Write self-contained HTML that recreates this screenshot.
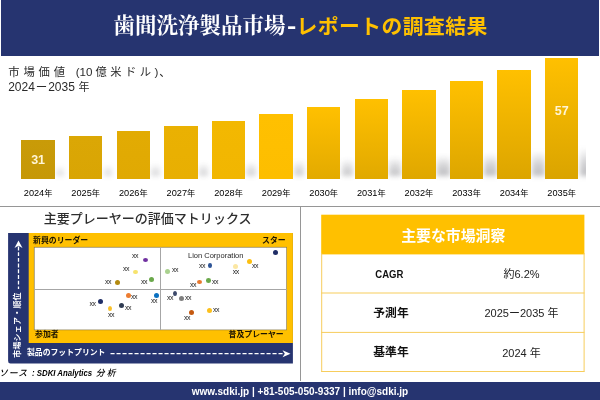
<!DOCTYPE html>
<html lang="ja"><head><meta charset="utf-8"><title>歯間洗浄製品市場</title>
<style>
html,body{margin:0;padding:0;background:#fff;}
body{width:600px;height:400px;position:relative;overflow:hidden;font-family:"Liberation Sans","Noto Sans CJK JP",sans-serif;color:#222;}
.abs{position:absolute;white-space:nowrap;}
#hdr{left:1px;top:0;width:597.5px;height:55.5px;background:#263470;}
#t1{left:113.5px;top:11.4px;font-family:"Liberation Serif","Noto Serif CJK SC","Noto Serif CJK JP",serif;font-weight:700;font-size:21.5px;line-height:30px;color:#fff;}
#t2{left:296.5px;top:12px;font-weight:700;letter-spacing:.45px;font-size:20.8px;line-height:30px;color:#ffc000;}
.sub{font-size:11px;line-height:14px;color:#2a2a2a;}
.bar{position:absolute;}
.sh{position:absolute;background:linear-gradient(to top,rgba(105,105,112,.43),rgba(105,105,112,.31) 45%,rgba(105,105,112,0));filter:blur(2.4px);}
#shw{left:0;top:0;width:586px;height:200px;overflow:hidden;}
.yr{position:absolute;font-size:9.2px;line-height:10px;color:#000;text-align:center;width:48px;white-space:nowrap;}
.nen{font-size:8.2px;}
.val{position:absolute;color:#fff5d6;font-weight:700;font-size:12.5px;line-height:14px;text-align:center;}
.hl{position:absolute;background:#969696;}
#mt{left:43.7px;top:209px;font-size:13.03px;line-height:20px;color:#2e2e2e;font-weight:500;}
#navy{left:8px;top:233px;width:285px;height:130.5px;background:#263470;border-radius:0 0 0 2.5px;}
#gold{left:28.7px;top:233px;width:264.3px;height:110px;background:#ffc000;}
#inner{left:33.8px;top:246.8px;width:253.2px;height:83.5px;background:#fff;border:1px solid #8a7a45;box-sizing:border-box;}
.ql{position:absolute;background:#a6a6a6;}
.qt{font-weight:700;font-size:7.9px;line-height:10px;color:#1c1400;}
.dot{position:absolute;border-radius:50%;}
.xx{position:absolute;font-size:7px;line-height:7px;color:#222;width:12px;text-align:center;letter-spacing:-0.6px;}
#src{left:-1px;top:367px;font-size:8.8px;line-height:12px;font-style:italic;color:#000;font-weight:500;}
#src b{display:inline-block;font-size:9px;transform:scaleX(.87);transform-origin:0 50%;margin-right:-8.5px;}
#ftr{left:0;top:381.5px;width:600px;height:18.5px;background:#263470;}
#ft{left:0;width:600px;text-align:center;top:385px;font-size:10px;line-height:14px;color:#fff;font-weight:700;}
.tb{position:absolute;background:#f7c948;}
.th{left:321px;top:214px;width:263.5px;height:40px;background:#ffc000;}
.tht{left:321.5px;width:263.5px;top:226.2px;text-align:center;color:#fff;font-size:14.9px;line-height:20px;font-weight:700;}
.c1{position:absolute;left:322px;width:138px;text-align:center;font-weight:700;font-size:11.8px;line-height:14px;color:#111;}
.c2{position:absolute;left:459px;width:125px;text-align:center;font-size:11px;line-height:14px;color:#222;}
</style></head><body>
<div class="abs" id="hdr"></div>
<div class="abs" id="t1">歯間洗浄製品市場<span style="font-family:'Liberation Sans',sans-serif;display:inline-block;position:relative;top:-0.3px;transform:scaleX(1.3);transform-origin:0 50%;margin-left:1.8px">-</span></div>
<div class="abs" id="t2">レポートの調査結果</div>
<div class="abs sub" style="left:8.2px;top:64.5px;"><span style="letter-spacing:3.9px;font-size:11.3px">市場価値</span> <span style="margin-left:3.7px;font-size:11.6px">(10</span><span style="letter-spacing:3.4px;font-size:11.3px;margin-left:3.1px">億米ドル</span><span style="font-size:11.6px">)</span><span style="font-size:11.3px;margin-left:1px">、</span></div>
<div class="abs sub" style="left:8.2px;top:79.5px;font-size:12px">2024<span style="margin:0 .9px 0 .9px;font-size:11.5px">ー</span>2035 <span style="font-size:11px;margin-left:.3px">年</span></div>

<div class="abs" id="shw">
<div class="sh" style="left:55.9px;top:166.0px;width:8.0px;height:10.0px;opacity:0.50"></div>
<div class="sh" style="left:103.5px;top:165.2px;width:8.4px;height:10.8px;opacity:0.54"></div>
<div class="sh" style="left:151.1px;top:164.1px;width:8.9px;height:11.9px;opacity:0.59"></div>
<div class="sh" style="left:198.7px;top:162.9px;width:9.4px;height:13.1px;opacity:0.64"></div>
<div class="sh" style="left:246.3px;top:161.8px;width:9.9px;height:14.1px;opacity:0.69"></div>
<div class="sh" style="left:293.9px;top:160.3px;width:10.5px;height:15.7px;opacity:0.75"></div>
<div class="sh" style="left:341.5px;top:158.8px;width:11.2px;height:17.2px;opacity:0.82"></div>
<div class="sh" style="left:389.1px;top:157.0px;width:12.0px;height:19.0px;opacity:0.90"></div>
<div class="sh" style="left:436.7px;top:155.0px;width:12.9px;height:21.0px;opacity:0.99"></div>
<div class="sh" style="left:484.3px;top:153.1px;width:13.0px;height:22.9px;opacity:1.00"></div>
<div class="sh" style="left:531.9px;top:150.6px;width:13.0px;height:25.4px;opacity:1.00"></div>
<div class="sh" style="left:579.5px;top:148.0px;width:13.0px;height:28.0px;opacity:1.00"></div>
</div>
<div class="bar" style="left:21.3px;top:140px;width:33.6px;height:38.5px;background:linear-gradient(180deg,#c99b08,#c69807);"></div>
<div class="yr" style="left:14.1px;top:188.3px;">2024<span class="nen">年</span></div>
<div class="bar" style="left:68.9px;top:136px;width:33.6px;height:42.5px;background:linear-gradient(180deg,#dba705,#d9a504);"></div>
<div class="yr" style="left:61.7px;top:188.3px;">2025<span class="nen">年</span></div>
<div class="bar" style="left:116.5px;top:131px;width:33.6px;height:47.5px;background:linear-gradient(180deg,#e2ab03,#e0a903);"></div>
<div class="yr" style="left:109.3px;top:188.3px;">2026<span class="nen">年</span></div>
<div class="bar" style="left:164.1px;top:126px;width:33.6px;height:52.5px;background:linear-gradient(180deg,#eab102,#e8af02);"></div>
<div class="yr" style="left:156.9px;top:188.3px;">2027<span class="nen">年</span></div>
<div class="bar" style="left:211.7px;top:121px;width:33.6px;height:57.5px;background:linear-gradient(180deg,#f3b801,#f1b601);"></div>
<div class="yr" style="left:204.5px;top:188.3px;">2028<span class="nen">年</span></div>
<div class="bar" style="left:259.3px;top:114px;width:33.6px;height:64.5px;background:linear-gradient(180deg,#ffc000,#fdbe00);"></div>
<div class="yr" style="left:252.1px;top:188.3px;">2029<span class="nen">年</span></div>
<div class="bar" style="left:306.9px;top:107px;width:33.6px;height:71.5px;background:linear-gradient(180deg,#ffc000,#e3aa00);"></div>
<div class="yr" style="left:299.7px;top:188.3px;">2030<span class="nen">年</span></div>
<div class="bar" style="left:354.5px;top:99px;width:33.6px;height:79.5px;background:linear-gradient(180deg,#ffc000,#e1a900);"></div>
<div class="yr" style="left:347.3px;top:188.3px;">2031<span class="nen">年</span></div>
<div class="bar" style="left:402.1px;top:90px;width:33.6px;height:88.5px;background:linear-gradient(180deg,#ffc000,#dfa700);"></div>
<div class="yr" style="left:394.9px;top:188.3px;">2032<span class="nen">年</span></div>
<div class="bar" style="left:449.7px;top:81px;width:33.6px;height:97.5px;background:linear-gradient(180deg,#ffc000,#dda600);"></div>
<div class="yr" style="left:442.5px;top:188.3px;">2033<span class="nen">年</span></div>
<div class="bar" style="left:497.3px;top:70px;width:33.6px;height:108.5px;background:linear-gradient(180deg,#ffc000,#dca500);"></div>
<div class="yr" style="left:490.1px;top:188.3px;">2034<span class="nen">年</span></div>
<div class="bar" style="left:544.9px;top:58px;width:33.6px;height:120.5px;background:linear-gradient(180deg,#ffc000,#daa400);"></div>
<div class="yr" style="left:537.7px;top:188.3px;">2035<span class="nen">年</span></div>
<div class="val" style="left:21.3px;width:33.6px;top:152.5px;">31</div>
<div class="val" style="left:544.9px;width:33.6px;top:104px;">57</div>

<div class="hl" style="left:0;top:206px;width:600px;height:1px;"></div>
<div class="hl" style="left:300px;top:206px;width:1px;height:175px;"></div>
<div class="abs" id="mt">主要プレーヤーの評価マトリックス</div>
<svg class="abs" style="left:0;top:0" width="600" height="400" viewBox="0 0 600 400">
<path d="M8.1 233 H292.9 V363.5 H10.5 Q8.1 363.5 8.1 361 Z" fill="#263470"/>
<rect x="28.7" y="233" width="264.2" height="110" fill="#ffc000"/>
<rect x="33.9" y="246.9" width="253" height="83.3" fill="#85753f"/>
<rect x="34.6" y="247.6" width="251.7" height="82" fill="#fff"/>
</svg>
<div class="ql" style="left:160px;top:248px;width:1px;height:82px;"></div>
<div class="ql" style="left:34.5px;top:289px;width:252px;height:1px;"></div>
<div class="abs qt" style="left:33px;top:235.5px;">新興のリーダー</div>
<div class="abs qt" style="left:262px;top:235.5px;">スター</div>
<div class="abs qt" style="left:35px;top:330px;">参加者</div>
<div class="abs qt" style="left:228.5px;top:330.3px;">普及プレーヤー</div>
<div class="abs" style="left:27px;top:347.5px;font-size:7.85px;line-height:10px;font-weight:700;color:#fff;">製品のフットプリント</div>
<svg class="abs" style="left:0;top:0" width="600" height="400" viewBox="0 0 600 400">
<line x1="110.5" y1="353.6" x2="284" y2="353.6" stroke="#fff" stroke-width="1.3" stroke-dasharray="4.1 1.9"/>
<path d="M290.5 353.7 L282.5 350.2 L284.8 353.7 L282.5 357.2 Z" fill="#fff"/>
<line x1="18.5" y1="246.5" x2="18.5" y2="289" stroke="#fff" stroke-width="1.3" stroke-dasharray="3.9 1.8"/>
<path d="M18.5 240.5 L14.5 248 L18.5 245.8 L22.5 248 Z" fill="#fff"/>
</svg>
<div class="abs" style="left:17.9px;top:325.3px;width:0;height:0;"><div style="position:absolute;transform:translate(-50%,-50%) rotate(-90deg);white-space:nowrap;font-size:7.9px;line-height:10px;font-weight:700;color:#fff;letter-spacing:.3px">市場シェア・順位</div></div>
<div class="abs" style="left:188px;top:251px;font-size:7.5px;line-height:9px;color:#262626;">Lion Corporation</div>

<div class="dot" style="left:142.9px;top:258.0px;width:5.2px;height:4.1px;background:#7030a0;"></div>
<div class="dot" style="left:133.0px;top:269.7px;width:5.0px;height:4.7px;background:#f7e36d;"></div>
<div class="dot" style="left:114.9px;top:279.9px;width:5.2px;height:5.2px;background:#b38a10;"></div>
<div class="dot" style="left:148.6px;top:276.8px;width:5.4px;height:5.4px;background:#6aa84a;"></div>
<div class="dot" style="left:125.6px;top:292.8px;width:5.2px;height:5.2px;background:#ed7d31;"></div>
<div class="dot" style="left:153.6px;top:293.0px;width:5.2px;height:5.2px;background:#0a70c0;"></div>
<div class="dot" style="left:164.9px;top:268.7px;width:5.2px;height:5.2px;background:#a9d18e;"></div>
<div class="dot" style="left:196.7px;top:279.8px;width:5.2px;height:4.5px;background:#e8792f;"></div>
<div class="dot" style="left:205.6px;top:277.9px;width:5.4px;height:5.0px;background:#6aa84a;"></div>
<div class="dot" style="left:207.7px;top:263.0px;width:4.3px;height:5.0px;background:#2f5597;"></div>
<div class="dot" style="left:173.0px;top:290.6px;width:4.1px;height:5.4px;background:#3d4a6b;"></div>
<div class="dot" style="left:178.7px;top:295.7px;width:5.2px;height:5.2px;background:#7f7f7f;"></div>
<div class="dot" style="left:98.0px;top:298.7px;width:5.0px;height:5.0px;background:#1f2d66;"></div>
<div class="dot" style="left:108.0px;top:305.7px;width:4.1px;height:5.2px;background:#f9c12a;"></div>
<div class="dot" style="left:119.0px;top:303.0px;width:5.0px;height:5.0px;background:#2f3b52;"></div>
<div class="dot" style="left:272.9px;top:249.8px;width:5.2px;height:5.2px;background:#1f2d66;"></div>
<div class="dot" style="left:247.0px;top:258.9px;width:5.2px;height:5.2px;background:#fcbf10;"></div>
<div class="dot" style="left:233.0px;top:263.6px;width:5.2px;height:5.2px;background:#fbe7a3;"></div>
<div class="dot" style="left:188.6px;top:309.9px;width:5.2px;height:5.2px;background:#c55a11;"></div>
<div class="dot" style="left:206.9px;top:307.9px;width:5.2px;height:5.2px;background:#fcc01c;"></div>
<div class="xx" style="left:129.0px;top:252.2px;">xx</div>
<div class="xx" style="left:120.0px;top:265.0px;">xx</div>
<div class="xx" style="left:102.0px;top:278.0px;">xx</div>
<div class="xx" style="left:138.0px;top:278.0px;">xx</div>
<div class="xx" style="left:128.0px;top:293.3px;">xx</div>
<div class="xx" style="left:148.0px;top:296.8px;">xx</div>
<div class="xx" style="left:169.0px;top:266.0px;">xx</div>
<div class="xx" style="left:196.0px;top:262.0px;">xx</div>
<div class="xx" style="left:187.0px;top:281.0px;">xx</div>
<div class="xx" style="left:164.0px;top:294.2px;">xx</div>
<div class="xx" style="left:182.0px;top:294.0px;">xx</div>
<div class="xx" style="left:86.5px;top:300.2px;">xx</div>
<div class="xx" style="left:105.0px;top:311.0px;">xx</div>
<div class="xx" style="left:122.0px;top:303.5px;">xx</div>
<div class="xx" style="left:249.0px;top:262.0px;">xx</div>
<div class="xx" style="left:229.7px;top:267.7px;">xx</div>
<div class="xx" style="left:209.0px;top:278.0px;">xx</div>
<div class="xx" style="left:181.0px;top:314.0px;">xx</div>
<div class="xx" style="left:210.0px;top:306.0px;">xx</div>

<div class="abs" id="src"><span style="letter-spacing:1px">ソース</span><b style="margin-left:4.2px"> : SDKI Analytics</b> <span style="letter-spacing:2.2px;margin-left:0.4px">分析</span></div>
<svg class="abs" style="left:0;top:0" width="600" height="400" viewBox="0 0 600 400">
<rect x="321.2" y="214.7" width="263.2" height="39.7" fill="#ffc000"/>
<g fill="#f7cd5c">
<rect x="321.2" y="253" width="1" height="118.9"/>
<rect x="583.6" y="253" width="1" height="118.9"/>
<rect x="321.2" y="292.5" width="263.2" height="1"/>
<rect x="321.2" y="331.9" width="263.2" height="1"/>
<rect x="321.2" y="371" width="263.2" height="1"/>
</g>
</svg>
<div class="abs tht">主要な市場洞察</div>
<div class="c1" style="top:267px;"><span style="display:inline-block;position:relative;left:-1.5px;transform:scaleX(.81)">CAGR</span></div>
<div class="c2" style="top:267px;">約6.2%</div>
<div class="c1" style="top:305.5px;">予測年</div>
<div class="c2" style="top:306px;">2025ー2035 年</div>
<div class="c1" style="top:345px;">基準年</div>
<div class="c2" style="top:345.5px;">2024 年</div>
<div class="abs" id="ftr"></div>
<div class="abs" id="ft">www.sdki.jp | +81-505-050-9337 | info@sdki.jp</div>
</body></html>
